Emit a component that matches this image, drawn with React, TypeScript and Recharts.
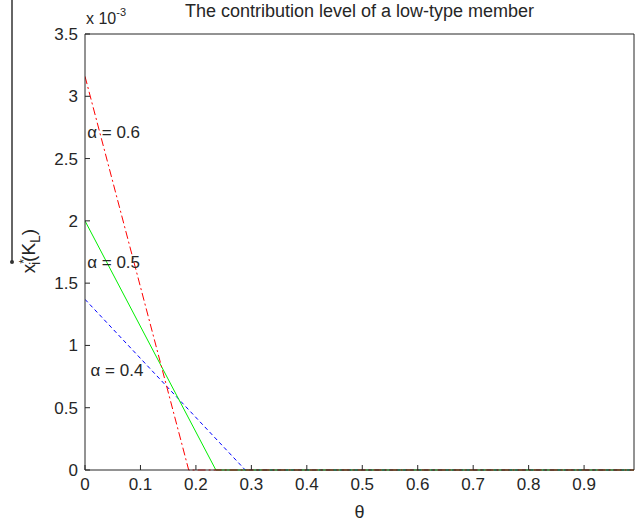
import { LineChart, Line, XAxis, YAxis, ReferenceDot, Label } from 'recharts';

// θ ticks and contribution ticks (values in units of 10^-3)
const thetaTicks = [0, 0.1, 0.2, 0.3, 0.4, 0.5, 0.6, 0.7, 0.8, 0.9];
const valueTicks = [0, 0.5, 1, 1.5, 2, 2.5, 3, 3.5];

// α = 0.4 (blue, dashed)
const theta04 = [0, 0.289, 0.99];
const value04 = [1.37, 0, 0];

// α = 0.5 (green, solid)
const theta05 = [0, 0.236, 0.99];
const value05 = [2.0, 0, 0];

// α = 0.6 (red, dash-dot)
const theta06 = [0, 0.187, 0.99];
const value06 = [3.16, 0, 0];

// curve annotations
const noteText = ['α = 0.6', 'α = 0.5', 'α = 0.4'];
const noteTheta = [0.004, 0.004, 0.01];
const noteValue = [2.71, 1.67, 0.8];

const toRows = (xs: number[], ys: number[]) => xs.map((t, i) => ({ theta: t, value: ys[i] }));

const FONT = '"Liberation Sans", Arial, Helvetica, sans-serif';
const INK = '#262626';

const NoteLabel = (text: string) => (props: any) => {
    const { viewBox } = props;
    return (
        <text x={viewBox.x} y={viewBox.y} dy="0.35em" fontSize={17} fill={INK} fontFamily={FONT}>
            {text}
        </text>
    );
};

export default function App() {
    const tickStyle = { fill: INK, fontSize: 17, fontFamily: FONT };

    return (
        <div style={{ position: 'absolute', left: 0, top: 0, width: 635, height: 524, background: '#fff' }}>
            {/* stray rule on the left edge of the scan */}
            <div style={{ position: 'absolute', left: 11, top: 0, width: 1.5, height: 262, background: '#666' }} />
            <div style={{ position: 'absolute', left: 10, top: 260, width: 4, height: 4, borderRadius: 2, background: '#333' }} />

            <div
                style={{
                    position: 'absolute',
                    left: 85,
                    width: 549,
                    top: 1,
                    textAlign: 'center',
                    fontFamily: FONT,
                    fontSize: 18,
                    color: INK,
                }}
            >
                The contribution level of a low-type member
            </div>
            <div style={{ position: 'absolute', left: 86, top: 8, fontFamily: FONT, fontSize: 16, color: INK }}>
                x 10<sup style={{ fontSize: 11, position: 'relative', top: -2 }}>-3</sup>
            </div>

            <LineChart width={635} height={524} margin={{ top: 33, right: 0, left: 0, bottom: 0 }}>
                <XAxis
                    xAxisId="bottom"
                    dataKey="theta"
                    type="number"
                    domain={[0, 0.99]}
                    ticks={thetaTicks}
                    allowDataOverflow
                    height={54}
                    stroke={INK}
                    tickSize={-5}
                    tickMargin={13}
                    tick={tickStyle}
                >
                    <Label
                        content={(p: any) => (
                            <text x={p.viewBox.x + p.viewBox.width / 2} y={518} textAnchor="middle" fontSize={18} fill={INK} fontFamily={FONT}>
                                θ
                            </text>
                        )}
                    />
                </XAxis>
                <XAxis
                    xAxisId="top"
                    orientation="top"
                    dataKey="theta"
                    type="number"
                    domain={[0, 0.99]}
                    ticks={thetaTicks}
                    height={1}
                    stroke={INK}
                    tickSize={-5}
                    tickFormatter={() => ''}
                />
                <YAxis
                    yAxisId="left"
                    type="number"
                    domain={[0, 3.5]}
                    ticks={valueTicks}
                    width={85}
                    stroke={INK}
                    tickSize={-5}
                    tickMargin={12}
                    tick={tickStyle}
                >
                    <Label
                        content={() => (
                            <text transform="translate(35,251) rotate(-90)" textAnchor="middle" fontSize={19} fill={INK} fontFamily={FONT}>
                                x
                                <tspan dy={-7} fontSize={12}>*</tspan>
                                <tspan dx={-6} dy={12} fontSize={14}>i</tspan>
                                <tspan dy={-5}>(K</tspan>
                                <tspan dy={5} fontSize={14}>L</tspan>
                                <tspan dy={-5}>)</tspan>
                            </text>
                        )}
                    />
                </YAxis>
                <YAxis
                    yAxisId="right"
                    orientation="right"
                    type="number"
                    domain={[0, 3.5]}
                    ticks={valueTicks}
                    width={1}
                    stroke={INK}
                    tickSize={-5}
                    tickFormatter={() => ''}
                />

                <Line
                    xAxisId="bottom"
                    yAxisId="left"
                    data={toRows(theta04, value04)}
                    dataKey="value"
                    stroke="#0000ff"
                    strokeWidth={1}
                    strokeDasharray="4 3"
                    dot={false}
                    isAnimationActive={false}
                />
                <Line
                    xAxisId="bottom"
                    yAxisId="left"
                    data={toRows(theta05, value05)}
                    dataKey="value"
                    stroke="#00ee00"
                    strokeWidth={1}
                    dot={false}
                    isAnimationActive={false}
                />
                <Line
                    xAxisId="bottom"
                    yAxisId="left"
                    data={toRows(theta06, value06)}
                    dataKey="value"
                    stroke="#ff0000"
                    strokeWidth={1}
                    strokeDasharray="8 3 2 3"
                    dot={false}
                    isAnimationActive={false}
                />

                {noteText.map((t, i) => (
                    <ReferenceDot
                        key={t}
                        xAxisId="bottom"
                        yAxisId="left"
                        x={noteTheta[i]}
                        y={noteValue[i]}
                        r={0}
                        stroke="none"
                        fill="none"
                        label={NoteLabel(t)}
                    />
                ))}
            </LineChart>
        </div>
    );
}
